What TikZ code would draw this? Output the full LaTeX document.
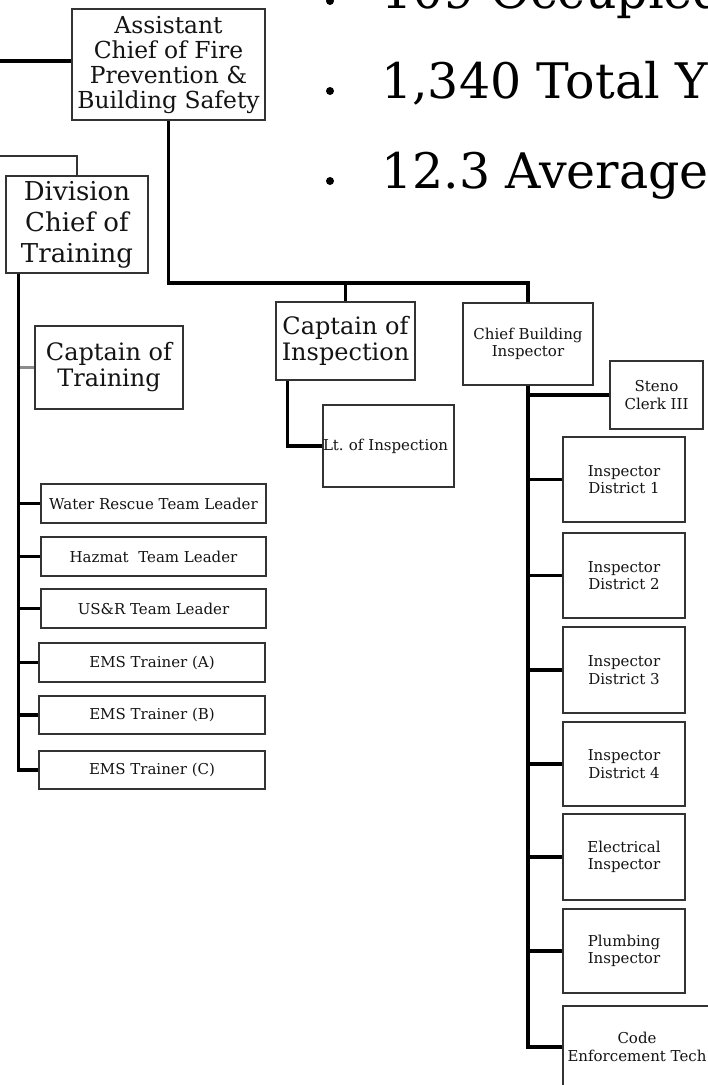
\documentclass[tikz,border=0pt]{standalone}
\usepackage{fontspec}
\setmainfont{DejaVu Serif}
\usetikzlibrary{calc}
\definecolor{boxgray}{HTML}{333333}
\definecolor{textc}{HTML}{141414}
\begin{document}
\begin{tikzpicture}[x=1pt,y=-1pt,
  box/.style={draw=boxgray, line width=1.6pt, fill=white, inner sep=0pt, align=center, text=textc},
  conn/.style={line width=3.2pt, draw=black},
  gconn/.style={line width=2.6pt, draw=black!80},
  lconn/.style={line width=2.6pt, draw=black!45},
  fBig/.style={font=\fontsize{23.4pt}{25pt}\selectfont},
  fDiv/.style={font=\fontsize{26pt}{31pt}\selectfont},
  fCap/.style={font=\fontsize{24pt}{26pt}\selectfont},
  fSm/.style={font=\fontsize{15pt}{17.5pt}\selectfont},
  fList/.style={font=\fontsize{15pt}{17pt}\selectfont},
  fBul/.style={font=\fontsize{49pt}{55pt}\selectfont, text=black, inner sep=0pt, anchor=base west},
  dot/.style={fill=black}
]
\useasboundingbox (0,0) rectangle (708,1085);
\clip (0,0) rectangle (708,1085);

% bullet text
\node[fBul] (b1) at (381,8) {109 Occupied};
\node[fBul] (b2) at (381,98) {1,340 Total Y};
\node[fBul] (b3) at (381,188) {12.3 Average};
\fill[dot] (330,1) circle (4pt);
\fill[dot] (330,91) circle (4pt);
\fill[dot] (330,181) circle (4pt);

% boxes
\node[box, fBig, minimum width=193pt, minimum height=111pt] (asst) at (168.5,64.5)
  {Assistant\\Chief of Fire\\Prevention \&\\Building Safety};
\node[box, fDiv, minimum width=142pt, minimum height=97pt] (div) at (77,224.5)
  {Division\\Chief of\\Training};
\node[box, fCap, minimum width=148pt, minimum height=83pt] (capT) at (109,367.5)
  {Captain of\\Training};
\node[box, fCap, minimum width=139pt, minimum height=78pt] (capI) at (345.5,341)
  {Captain of\\Inspection};
\node[box, fSm, text width=131pt, align=left, minimum height=82pt] (lt) at (388.5,446)
  {Lt.\ of Inspection};
\node[box, fSm, minimum width=130pt, minimum height=82pt] (cbi) at (528,344)
  {Chief Building\\Inspector};
\node[box, fSm, minimum width=93pt, minimum height=68pt] (steno) at (656.5,395)
  {Steno\\Clerk III};
\node[box, fSm, minimum width=122pt, minimum height=85pt] (d1) at (624,479.5)
  {Inspector\\District 1};
\node[box, fSm, minimum width=122pt, minimum height=85pt] (d2) at (624,575.5)
  {Inspector\\District 2};
\node[box, fSm, minimum width=122pt, minimum height=86pt] (d3) at (624,670)
  {Inspector\\District 3};
\node[box, fSm, minimum width=122pt, minimum height=84pt] (d4) at (624,764)
  {Inspector\\District 4};
\node[box, fSm, minimum width=122pt, minimum height=86pt] (elec) at (624,857)
  {Electrical\\Inspector};
\node[box, fSm, minimum width=122pt, minimum height=84pt] (plumb) at (624,951)
  {Plumbing\\Inspector};
\node[box, fSm, minimum width=148pt, minimum height=82pt] (code) at (637,1047)
  {Code\\Enforcement Tech};

\node[box, fList, minimum width=225pt, minimum height=39pt] (water) at (153.5,503.5)
  {Water Rescue Team Leader};
\node[box, fList, minimum width=225pt, minimum height=39pt] (hazmat) at (153.5,556.5)
  {Hazmat\ \ Team Leader};
\node[box, fList, minimum width=225pt, minimum height=39pt] (usr) at (153.5,608.5)
  {US\&R Team Leader};
\node[box, fList, minimum width=226pt, minimum height=39pt] (emsA) at (152,662.5)
  {EMS Trainer (A)};
\node[box, fList, minimum width=226pt, minimum height=38pt] (emsB) at (152,715)
  {EMS Trainer (B)};
\node[box, fList, minimum width=226pt, minimum height=38pt] (emsC) at (152,770)
  {EMS Trainer (C)};

% connectors
\coordinate (inA) at (0,61);
\coordinate (inD) at (0,156);
\coordinate (busY) at (0,283);
\coordinate (tL) at ([xshift=13pt]div.south west);

\draw[conn] (inA) -- (inA -| asst.west);
\draw[gconn] (inD) -| (div.north);

\draw[conn] (asst.south) |- (cbi.north |- busY) -- (cbi.north);
\draw[conn] (capI.north |- busY) -- (capI.north);

\draw[conn] ([xshift=12pt]capI.south west) |- (lt.west);

\draw[lconn] (tL |- capT.west) -- (capT.west);
\draw[conn] (tL) -- (tL |- emsC.west) -- (emsC.west);
\foreach \n in {water,hazmat,usr,emsA,emsB}
  \draw[conn] (tL |- \n.west) -- (\n.west);

\draw[conn] (cbi.south) -- (cbi.south |- code.west) -- (code.west);
\foreach \n in {steno,d1,d2,d3,d4,elec,plumb}
  \draw[conn] (cbi.south |- \n.west) -- (\n.west);
\end{tikzpicture}
\end{document}
